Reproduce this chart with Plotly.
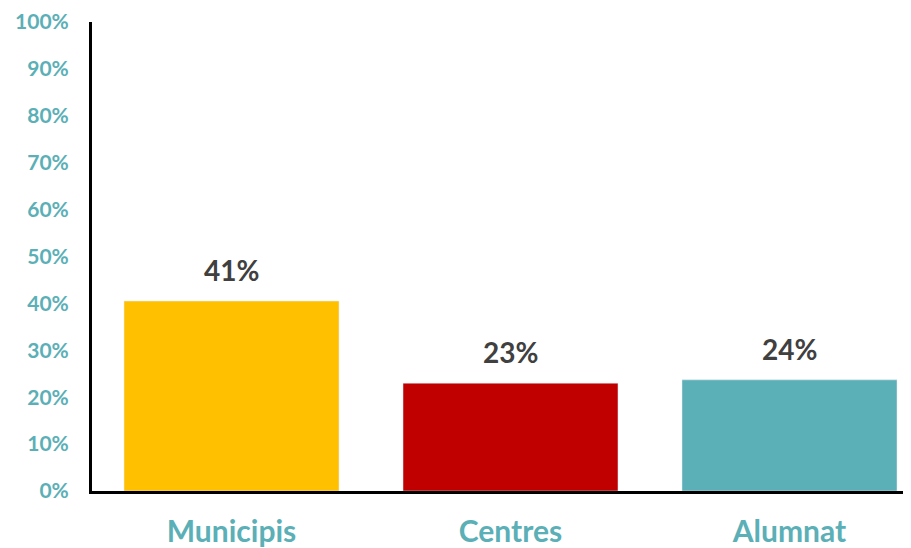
import plotly.graph_objects as go

categories = ["Municipis", "Centres", "Alumnat"]
values = [0.405, 0.23, 0.237]
labels = ["41%", "23%", "24%"]
colors = ["#FFC000", "#C00000", "#5BAFB6"]
y_ticks = [i / 10 for i in range(11)]
y_tick_labels = [f"{i * 10}%" for i in range(11)]

teal = "#5BAFB6"
font_family = "Lato, Open Sans, sans-serif"

fig = go.Figure()
fig.add_trace(go.Bar(
    x=categories, y=values, marker_color=colors, width=215 / 279,
    hoverinfo="skip", showlegend=False,
))

for c, v, t in zip(categories, values, labels):
    fig.add_annotation(x=c, y=v, text=t, showarrow=False, yanchor="bottom", yshift=12,
                       font=dict(family=font_family, size=28, color="#404040", weight="bold"))

# page body has an 8px default margin; the figure is sized to fit the window
fig.update_layout(
    width=903, height=540,
    margin=dict(l=84, r=0, t=14, b=57, autoexpand=False),
    plot_bgcolor="white", paper_bgcolor="white",
    xaxis=dict(
        range=[-0.5, 2.4355], showline=True, linecolor="black", linewidth=3,
        showgrid=False, ticks="", ticklabelstandoff=12, automargin=False,
        tickfont=dict(family=font_family, size=30, color=teal, weight="bold"),
        fixedrange=True,
    ),
    yaxis=dict(
        range=[0, 1], tickvals=y_ticks, ticktext=y_tick_labels,
        showline=True, linecolor="black", linewidth=3, showgrid=False, zeroline=False,
        ticks="", ticklabelstandoff=16, automargin=False,
        tickfont=dict(family=font_family, size=21, color=teal, weight="bold"),
        fixedrange=True,
    ),
)

fig.write_html("out.html")
